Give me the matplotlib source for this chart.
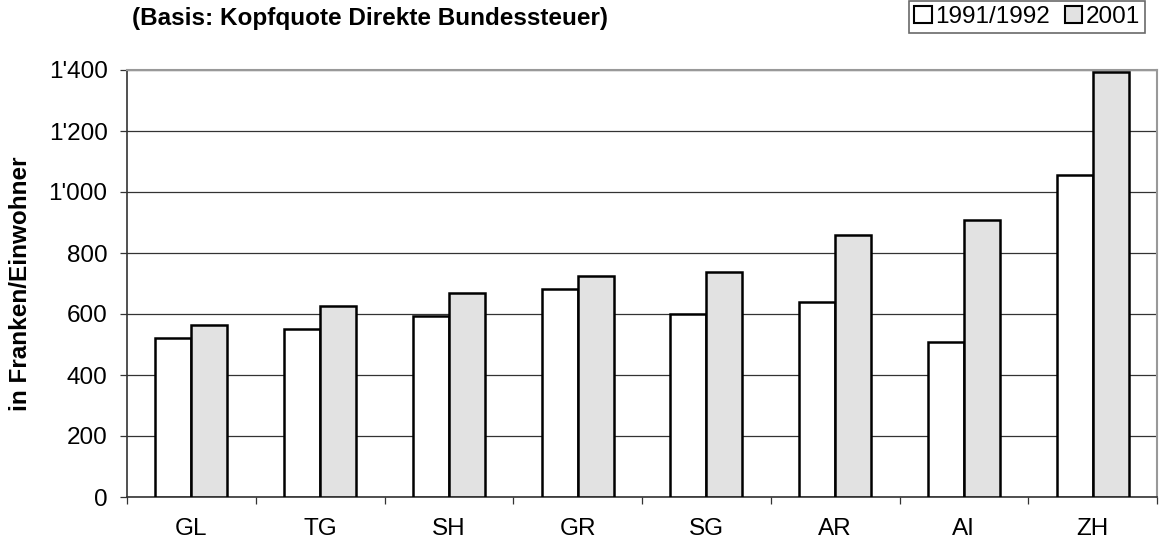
import numpy as np
import matplotlib
matplotlib.use("Agg")
import matplotlib.pyplot as plt
from matplotlib.ticker import FuncFormatter, FixedLocator
from matplotlib.patches import Patch

plt.rcParams["font.family"] = ["Liberation Sans", "DejaVu Sans"]

# data
kantone = ["GL", "TG", "SH", "GR", "SG", "AR", "AI", "ZH"]
werte_1991 = [521, 550, 595, 681, 600, 638, 509, 1055]
werte_2001 = [564, 625, 669, 723, 739, 859, 909, 1392]
serien = ["1991/1992", "2001"]

W, H = 1164, 551
FS = 17.5
fig = plt.figure(figsize=(W / 100, H / 100), dpi=100)
ax = fig.add_axes([127 / W, (H - 497) / H, (1157 - 127) / W, (497 - 70) / H])

x = np.arange(len(kantone))
bw = 0.28
grey = "#e2e2e2"

ax.bar(x - bw / 2, werte_1991, bw, color="white", edgecolor="black",
       linewidth=1.8, zorder=3)
ax.bar(x + bw / 2, werte_2001, bw, color=grey, edgecolor="black",
       linewidth=1.8, zorder=3)

ax.set_xlim(-0.5, len(kantone) - 0.5)
ax.set_ylim(0, 1400)

# y axis
ax.set_yticks(np.arange(0, 1401, 200))
ax.yaxis.set_major_formatter(FuncFormatter(lambda v, p: f"{int(v):,}".replace(",", "'")))
ax.yaxis.grid(True, color="#333333", linewidth=0.9, zorder=0)
ax.tick_params(axis="y", direction="out", length=5, width=0.9, pad=9,
               labelsize=FS, color="#333333")

# x axis: tick marks between categories, labels at centres
ax.xaxis.set_major_locator(FixedLocator(np.arange(-0.5, len(kantone), 1.0)))
ax.xaxis.set_major_formatter(FuncFormatter(lambda v, p: ""))
ax.xaxis.set_minor_locator(FixedLocator(x))
ax.set_xticklabels(kantone, minor=True)
ax.tick_params(axis="x", which="major", direction="out", length=5, width=0.9,
               color="#333333")
ax.tick_params(axis="x", which="minor", length=0, pad=15, labelsize=FS)

for side in ["top", "right"]:
    ax.spines[side].set_color("#999999")
    ax.spines[side].set_linewidth(1.5)
for side in ["left", "bottom"]:
    ax.spines[side].set_color("#333333")
    ax.spines[side].set_linewidth(1.2)

ax.set_ylabel("in Franken/Einwohner", fontsize=FS, fontweight="bold", labelpad=12)

fig.text(132 / W, 1 - 18 / H, "(Basis: Kopfquote Direkte Bundessteuer)",
         fontsize=FS, fontweight="bold", ha="left", va="center")

handles = [Patch(facecolor="white", edgecolor="black", linewidth=1.5, label=serien[0]),
           Patch(facecolor=grey, edgecolor="black", linewidth=1.5, label=serien[1])]
leg = fig.legend(handles=handles, loc="upper right", ncol=2,
                 bbox_to_anchor=(1145 / W, 1 - 1 / H), fontsize=FS,
                 frameon=True, fancybox=False, handlelength=0.72, handleheight=0.72,
                 handletextpad=0.15, columnspacing=0.6, borderpad=0.2,
                 borderaxespad=0)
leg.get_frame().set_edgecolor("#444444")
leg.get_frame().set_linewidth(1.2)

fig.savefig("out.png", dpi=100)
